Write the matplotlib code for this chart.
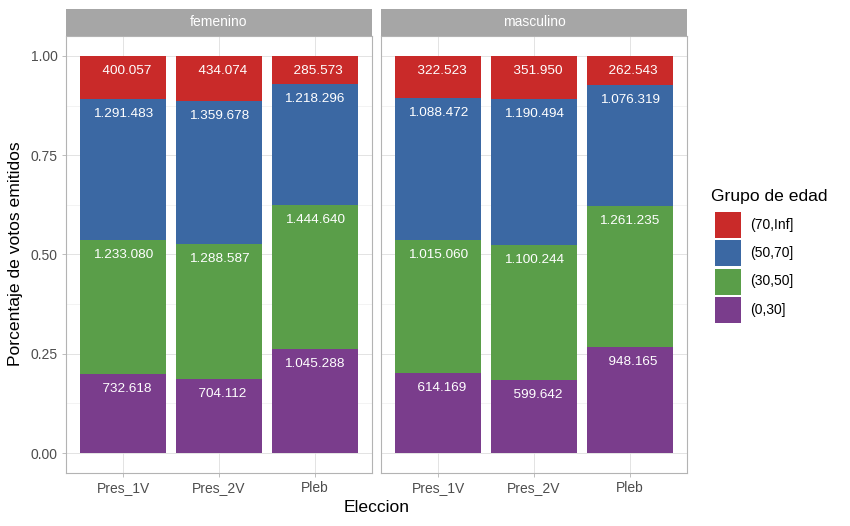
import numpy as np
import matplotlib
matplotlib.use("Agg")
import matplotlib.pyplot as plt
from matplotlib.patches import Rectangle

plt.rcParams['font.family'] = ['Liberation Sans', 'DejaVu Sans']

# data: votes by election, sex and age group
elecciones = ['Pres_1V', 'Pres_2V', 'Pleb']
sexos = ['femenino', 'masculino']
grupos = ['(0,30]', '(30,50]', '(50,70]', '(70,Inf]']
colores = ['#7A3D8C', '#5A9E49', '#3B68A3', '#C92A29']

fem_0_30 = [732618, 704112, 1045288]
fem_30_50 = [1233080, 1288587, 1444640]
fem_50_70 = [1291483, 1359678, 1218296]
fem_70_inf = [400057, 434074, 285573]

masc_0_30 = [614169, 599642, 948165]
masc_30_50 = [1015060, 1100244, 1261235]
masc_50_70 = [1088472, 1190494, 1076319]
masc_70_inf = [322523, 351950, 262543]

votos = {
    'femenino': [fem_0_30, fem_30_50, fem_50_70, fem_70_inf],
    'masculino': [masc_0_30, masc_30_50, masc_50_70, masc_70_inf],
}


def fmt(n):
    # thousands with dots, padded to a common width (like R's format)
    return f"{n:,}".replace(",", ".").rjust(9)


W, H = 850, 526
fig = plt.figure(figsize=(W / 100, H / 100), dpi=100)

def px(x0, y0, x1, y1):
    return [x0 / W, 1 - y1 / H, (x1 - x0) / W, (y1 - y0) / H]

panels = [(66, 372), (381, 687)]
grey70 = '#B3B3B3'
x = np.arange(1, 4)

for i, sexo in enumerate(sexos):
    x0, x1 = panels[i]
    ax = fig.add_axes(px(x0, 36, x1, 473))
    data = np.array(votos[sexo], dtype=float)
    prop = data / data.sum(axis=0)
    bottom = np.zeros(3)
    for g in range(4):
        ax.bar(x, prop[g], bottom=bottom, width=0.9, color=colores[g],
               edgecolor='none', zorder=2)
        top = bottom + prop[g]
        for xi, yi, n in zip(x, top, data[g]):
            ax.annotate(fmt(int(n)), (xi, yi), xytext=(0, -10.8),
                        textcoords='offset points', ha='center', va='center',
                        color='white', fontsize=9.7, zorder=3)
        bottom = top

    ax.set_xlim(0.4, 3.6)
    ax.set_ylim(-0.05, 1.05)
    ax.set_xticks(x)
    ax.set_xticklabels(elecciones)
    ax.set_yticks([0, 0.25, 0.5, 0.75, 1.0])
    ax.set_yticks([0.125, 0.375, 0.625, 0.875], minor=True)
    ax.grid(True, which='major', color='#DEDEDE', linewidth=0.6, zorder=0)
    ax.grid(True, which='minor', axis='y', color='#EBEBEB', linewidth=0.4, zorder=0)
    ax.set_axisbelow(True)
    for s in ax.spines.values():
        s.set_color(grey70)
        s.set_linewidth(0.8)
    ax.tick_params(which='major', color=grey70, length=3, width=0.6,
                   labelcolor='#4D4D4D', labelsize=10, pad=3)
    ax.tick_params(which='minor', length=0)
    if i == 0:
        ax.set_yticklabels(['0.00', '0.25', '0.50', '0.75', '1.00'])
    else:
        ax.tick_params(axis='y', which='major', length=0, labelleft=False)

    # facet strip
    st = fig.add_axes(px(x0, 9, x1, 36))
    st.set_facecolor('#A6A6A6')
    st.set_xticks([])
    st.set_yticks([])
    for s in st.spines.values():
        s.set_visible(False)
    st.text(0.5, 0.5, sexo, ha='center', va='center', color='white',
            fontsize=10, transform=st.transAxes)

fig.text(377 / W, 1 - 508 / H, 'Eleccion', ha='center', va='center', fontsize=12.6)
fig.text(16 / W, 1 - 254 / H, 'Porcentaje de votos emitidos', ha='center',
         va='center', rotation=90, fontsize=12.6)

# legend, drawn by hand to match ggplot key sizes
fig.text(711 / W, 1 - 196.5 / H, 'Grupo de edad', ha='left', va='center',
         fontsize=12.6)
key_top, key_size, key_pitch = 212.3, 26, 28.1
for k, (lab, col) in enumerate(zip(grupos[::-1], colores[::-1])):
    y0 = key_top + k * key_pitch
    fig.add_artist(Rectangle((715 / W, 1 - (y0 + key_size) / H),
                             key_size / W, key_size / H, facecolor=col,
                             edgecolor='none', transform=fig.transFigure))
    fig.text(750.5 / W, 1 - (y0 + key_size / 2) / H, lab, ha='left',
             va='center', fontsize=10)

fig.savefig('out.png', dpi=100)
